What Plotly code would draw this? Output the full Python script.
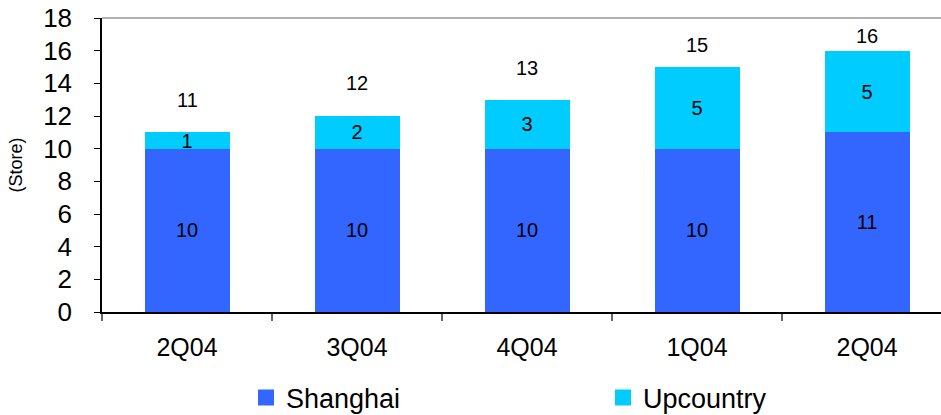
import plotly.graph_objects as go

quarters = ["2Q04", "3Q04", "4Q04", "1Q04", "2Q04"]
shanghai = [10, 10, 10, 10, 11]
upcountry = [1, 2, 3, 5, 5]
totals = [s + u for s, u in zip(shanghai, upcountry)]

# pixel offsets of the total labels above each bar (style only)
total_label_shift = [32, 33, 32, 22, 15]

FONT = "Liberation Sans, Arial, sans-serif"
C_SH = "#3366FF"
C_UP = "#00CCFF"

xpos = list(range(len(quarters)))

fig = go.Figure()
fig.add_trace(go.Bar(x=xpos, y=shanghai, name="Shanghai", marker_color=C_SH,
                     marker_line_width=0,
                     width=0.5, text=shanghai, textposition="inside",
                     insidetextanchor="middle", textangle=0,
                     textfont=dict(size=20, color="black", family=FONT),
                     showlegend=False))
fig.add_trace(go.Bar(x=xpos, y=upcountry, name="Upcountry", marker_color=C_UP,
                     marker_line_width=0,
                     width=0.5, text=upcountry, textposition="inside",
                     insidetextanchor="middle", textangle=0,
                     textfont=dict(size=20, color="black", family=FONT),
                     showlegend=False))
# legend proxies (bigger square markers)
for nm, c in [("Shanghai", C_SH), ("Upcountry", C_UP)]:
    fig.add_trace(go.Scatter(x=[None], y=[None], mode="markers", name=nm,
                             marker=dict(symbol="square", size=16, color=c)))

for x, t, sh in zip(xpos, totals, total_label_shift):
    fig.add_annotation(x=x, y=t, text=str(t), showarrow=False, yshift=sh,
                       font=dict(size=20, color="black", family=FONT))

fig.add_shape(type="line", xref="paper", yref="paper", x0=0, x1=1, y0=1, y1=1,
              line=dict(color="#999999", width=1.5))

W, H = 941, 415
fig.update_layout(
    width=W, height=H,
    margin=dict(l=102, r=0, t=18, b=103, autoexpand=False),
    barmode="stack",
    uniformtext=dict(minsize=20, mode="show"),
    plot_bgcolor="white", paper_bgcolor="white",
    font=dict(family=FONT, color="black"),
    legend=dict(orientation="h", x=246 / W, xref="container", xanchor="left",
                y=1 - 398 / H, yref="container", yanchor="middle", traceorder="normal",
                font=dict(size=27, family=FONT), entrywidth=312, entrywidthmode="pixels",
                itemsizing="trace"),
    xaxis=dict(range=[-0.5, 4.435], tickmode="array", tickvals=xpos, ticktext=quarters,
               ticks="", showline=True, linecolor="black", linewidth=1.5,
               tickfont=dict(size=25, family=FONT), ticklabelstandoff=12,
               showgrid=False, zeroline=False,
               minor=dict(tickmode="linear", tick0=-0.5, dtick=1, ticks="outside",
                          ticklen=7, tickcolor="#666666", tickwidth=1.5, showgrid=False)),
    yaxis=dict(range=[0, 18], dtick=2, ticks="outside", ticklen=6, tickcolor="black",
               showline=True, linecolor="black", linewidth=1.5, showgrid=False,
               zeroline=False, tickfont=dict(size=26, family=FONT), ticklabelstandoff=17,
               ticklabeloverflow="allow",
               title=dict(text="(Store)", font=dict(size=18, family=FONT), standoff=16)),
)

fig.write_html("out.html", config={"displayModeBar": False},
               post_script="document.body.style.margin='0';")
